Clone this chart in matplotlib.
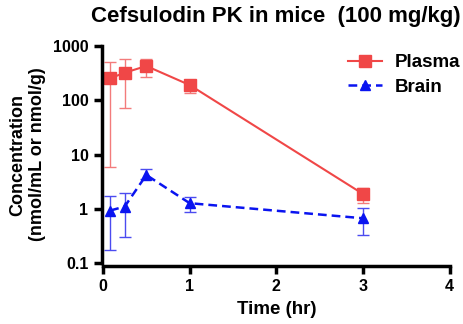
import matplotlib
matplotlib.use("Agg")
import matplotlib.pyplot as plt
import numpy as np

plt.rcParams['font.family'] = ['Liberation Sans', 'DejaVu Sans']
plt.rcParams['font.weight'] = 'bold'

time = [0.083, 0.25, 0.5, 1, 3]
plasma = [254, 322, 428, 191, 1.88]
plasma_hi = [515, 570, 583, 230, 2.45]
plasma_lo = [5.8, 71, 272, 138, 1.27]
brain = [0.93, 1.1, 4.2, 1.27, 0.67]
brain_hi = [1.73, 1.94, 5.4, 1.68, 1.03]
brain_lo = [0.175, 0.30, 3.5, 0.86, 0.33]

red = '#F04747'
blue = '#0A14F0'

fig = plt.figure(figsize=(4.64, 3.24), dpi=100)
ax = fig.add_axes([0.222, 0.188, 0.747, 0.670])

p = np.array(plasma)
b = np.array(brain)
ax.errorbar(time, p, yerr=[p - np.array(plasma_lo), np.array(plasma_hi) - p],
            fmt='none', ecolor='#F37B7B', elinewidth=1, capsize=4, capthick=1)
ax.errorbar(time, b, yerr=[b - np.array(brain_lo), np.array(brain_hi) - b],
            fmt='none', ecolor='#4B4BF0', elinewidth=1, capsize=4, capthick=1)
ax.plot(time, plasma, color=red, marker='s', markersize=8, lw=1.5, label='Plasma')
ax.plot(time, brain, color=blue, marker='^', markersize=7, lw=1.8, ls=(0, (3.5, 2)), label='Brain')

ax.set_yscale('log')
ax.set_ylim(0.1, 1000)
ax.set_xlim(0, 4)
ax.set_yticks([0.1, 1, 10, 100, 1000])
ax.set_yticklabels(['0.1', '1', '10', '100', '1000'])
ax.minorticks_off()
ax.set_xticks([0, 1, 2, 3, 4])
for s in ['top', 'right']:
    ax.spines[s].set_visible(False)
for s in ['left', 'bottom']:
    ax.spines[s].set_linewidth(2.5)
ax.spines['bottom'].set_position(('outward', 2))
ax.spines['left'].set_position(('outward', 1))
ax.tick_params(width=2.5, length=6, labelsize=11.5)

ax.set_xlabel('Time (hr)', fontsize=13.5, fontweight='bold', labelpad=5)
ax.set_ylabel('Concentration\n(nmol/mL or nmol/g)', fontsize=13, fontweight='bold', labelpad=5)
ax.set_title('Cefsulodin PK in mice  (100 mg/kg)', fontsize=16, fontweight='bold', pad=17)

ax.legend(loc='upper right', bbox_to_anchor=(1.08, 1.04), frameon=False,
          prop={'size': 13.5, 'weight': 'bold'}, handlelength=1.8, handletextpad=0.7,
          labelspacing=0.4)

fig.savefig('out.png', dpi=100)
